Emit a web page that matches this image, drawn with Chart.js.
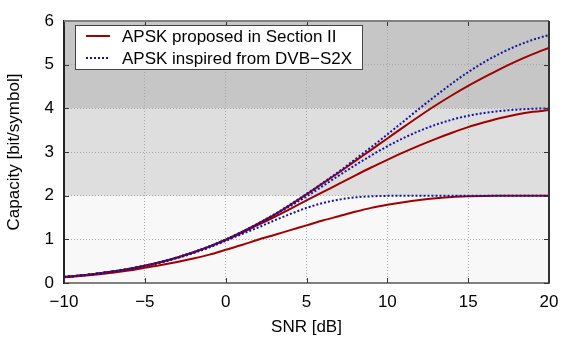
<!DOCTYPE html>
<html>
<head>
<meta charset="utf-8">
<script src="https://cdn.jsdelivr.net/npm/chart.js@4/dist/chart.umd.min.js"></script>
<style>
  html, body { margin: 0; padding: 0; background: #fff; }
  #wrap { width: 581px; height: 339px; }
</style>
</head>
<body>
<div id="wrap"><canvas id="grafico"></canvas></div>
<script>
// SNR axis (dB)
const snr = [-10, -9, -8, -7, -6, -5, -4, -3, -2, -1, 0, 1, 2, 3, 4, 5, 6, 7, 8, 9, 10,
             11, 12, 13, 14, 15, 16, 17, 18, 19, 20];

// APSK proposed in Section II (red, solid)
const propHigh = [0.137, 0.171, 0.212, 0.262, 0.323, 0.395, 0.483, 0.585, 0.703, 0.838, 0.993,
                  1.17, 1.36, 1.56, 1.79, 2.03, 2.28, 2.53, 2.79, 3.05, 3.31,
                  3.57, 3.825, 4.07, 4.30, 4.515, 4.715, 4.905, 5.08, 5.24, 5.385];
const propMid = [0.137, 0.171, 0.212, 0.261, 0.322, 0.394, 0.481, 0.582, 0.700, 0.834, 0.985,
                 1.15, 1.33, 1.51, 1.70, 1.89, 2.08, 2.27, 2.46, 2.645, 2.82,
                 2.99, 3.15, 3.30, 3.44, 3.57, 3.68, 3.78, 3.86, 3.92, 3.96];
const propLow = [0.13, 0.16, 0.195, 0.235, 0.285, 0.35, 0.41, 0.48, 0.56, 0.65, 0.76,
                 0.87, 0.99, 1.10, 1.21, 1.32, 1.43, 1.53, 1.63, 1.72, 1.79,
                 1.85, 1.90, 1.94, 1.97, 1.985, 1.993, 1.997, 2.0, 2.0, 2.0];

// APSK inspired from DVB-S2X (blue, dotted)
const dvbHigh = [0.137, 0.171, 0.212, 0.262, 0.323, 0.395, 0.483, 0.585, 0.704, 0.840, 0.995,
                 1.17, 1.36, 1.57, 1.80, 2.04, 2.29, 2.55, 2.83, 3.11, 3.40,
                 3.70, 4.00, 4.29, 4.57, 4.83, 5.06, 5.26, 5.43, 5.57, 5.68];
const dvbMid = [0.137, 0.171, 0.212, 0.262, 0.323, 0.395, 0.482, 0.584, 0.702, 0.837, 0.99,
                1.16, 1.35, 1.55, 1.76, 1.98, 2.22, 2.46, 2.695, 2.92, 3.13,
                3.32, 3.485, 3.625, 3.74, 3.83, 3.895, 3.94, 3.97, 3.99, 4.0];
const dvbLow = [0.136, 0.170, 0.210, 0.259, 0.318, 0.389, 0.473, 0.570, 0.684, 0.815, 0.965,
                1.12, 1.27, 1.43, 1.58, 1.72, 1.83, 1.91, 1.96, 1.985, 1.995,
                1.998, 2.0, 2.0, 2.0, 2.0, 2.0, 2.0, 2.0, 2.0, 2.0];

const legendLabels = ['APSK proposed in Section II', 'APSK inspired from DVB\u2212S2X'];

// shaded capacity bands
const bandLimits = [0, 2, 4, 6];
const bandColors = ['#f8f8f8', '#dedede', '#c6c6c6'];

const FONT = '"Liberation Sans", Arial, sans-serif';
const FSIZE = 17;
const RED = '#a00000';
const BLUE = '#1414a0';

function pontos(ys) {
    return ys.map((y, i) => ({ x: snr[i], y: y }));
}

function serie(label, ys, dotted, showLegend) {
    return {
        label: label,
        data: pontos(ys),
        borderColor: dotted ? BLUE : RED,
        borderWidth: 2,
        borderDash: dotted ? [2, 2] : [],
        pointRadius: 0,
        fill: false,
        cubicInterpolationMode: 'monotone',
        order: dotted ? 0 : 1,
        inLegend: showLegend
    };
}

// background bands under the grid
const bandas = {
    id: 'bandas',
    beforeDraw(chart) {
        const { ctx, chartArea: a, scales: { y } } = chart;
        ctx.save();
        for (let i = 0; i < bandColors.length; i++) {
            const y1 = y.getPixelForValue(bandLimits[i]);
            const y2 = y.getPixelForValue(bandLimits[i + 1]);
            ctx.fillStyle = bandColors[i];
            ctx.fillRect(a.left, y2, a.right - a.left, y1 - y2);
        }
        ctx.restore();
    }
};

// frame + inward tick marks
const moldura = {
    id: 'moldura',
    afterDatasetsDraw(chart) {
        const { ctx, chartArea: a, scales: { x, y } } = chart;
        ctx.save();
        ctx.strokeStyle = '#333';
        ctx.lineWidth = 1;
        ctx.beginPath();
        x.ticks.forEach(t => {
            const px = Math.round(x.getPixelForValue(t.value)) + 0.5;
            ctx.moveTo(px, a.bottom); ctx.lineTo(px, a.bottom - 5);
            ctx.moveTo(px, a.top); ctx.lineTo(px, a.top + 5);
        });
        y.ticks.forEach(t => {
            const py = Math.round(y.getPixelForValue(t.value)) + 0.5;
            ctx.moveTo(a.left, py); ctx.lineTo(a.left + 5, py);
            ctx.moveTo(a.right, py); ctx.lineTo(a.right - 5, py);
        });
        ctx.stroke();
        // top and right edges
        ctx.lineWidth = 2;
        ctx.strokeStyle = '#808080';
        ctx.beginPath();
        ctx.moveTo(a.left, a.top); ctx.lineTo(a.right, a.top);
        ctx.stroke();
        ctx.strokeStyle = '#333';
        ctx.beginPath();
        ctx.moveTo(a.right, a.top); ctx.lineTo(a.right, a.bottom);
        ctx.stroke();
        ctx.restore();
    }
};

// legend box inside the plot, top-left
const legenda = {
    id: 'legenda',
    afterDraw(chart) {
        const { ctx, chartArea: a } = chart;
        const itens = chart.data.datasets.filter(d => d.inLegend);
        const left = a.left + 11, top = a.top + 4;
        const w = 287, rowH = 22, h = itens.length * rowH;
        ctx.save();
        ctx.fillStyle = '#fff';
        ctx.fillRect(left, top, w, h);
        ctx.strokeStyle = '#444';
        ctx.lineWidth = 1;
        ctx.strokeRect(left + 0.5, top + 0.5, w, h);
        ctx.font = FSIZE + 'px ' + FONT;
        ctx.textBaseline = 'middle';
        itens.forEach((d, i) => {
            const cy = top + rowH / 2 + i * rowH;
            ctx.strokeStyle = d.borderColor;
            ctx.lineWidth = 2;
            ctx.setLineDash(d.borderDash);
            ctx.beginPath();
            ctx.moveTo(left + 11, cy); ctx.lineTo(left + 35, cy);
            ctx.stroke();
            ctx.setLineDash([]);
            ctx.fillStyle = '#000';
            ctx.fillText(d.label, left + 47, cy + 1);
        });
        ctx.restore();
    }
};

const menos = v => (v < 0 ? '\u2212' + Math.abs(v) : String(v));

new Chart(document.getElementById('grafico').getContext('2d'), {
    type: 'line',
    data: {
        datasets: [
            serie(legendLabels[0], propHigh, false, true),
            serie(legendLabels[0], propMid, false, false),
            serie(legendLabels[0], propLow, false, false),
            serie(legendLabels[1], dvbHigh, true, true),
            serie(legendLabels[1], dvbMid, true, false),
            serie(legendLabels[1], dvbLow, true, false)
        ]
    },
    options: {
        responsive: true,
        maintainAspectRatio: false,
        animation: false,
        layout: { padding: { top: 21, right: 32, left: 0, bottom: 0 } },
        plugins: { legend: { display: false }, tooltip: { enabled: false } },
        scales: {
            x: {
                type: 'linear',
                min: -10,
                max: 20,
                afterFit: s => { s.height = 56; },
                ticks: { stepSize: 5, color: '#000', padding: 9, font: { family: FONT, size: FSIZE }, callback: menos },
                grid: { color: '#a8a8a8', lineWidth: 1, drawTicks: false },
                border: { color: '#808080', width: 2, dash: [1, 2] },
                title: { display: true, text: 'SNR [dB]', color: '#000', font: { family: FONT, size: FSIZE }, padding: { top: 0, bottom: 1 } }
            },
            y: {
                min: 0,
                max: 6,
                afterFit: s => { s.width = 64; },
                ticks: { stepSize: 1, color: '#000', padding: 10, font: { family: FONT, size: FSIZE }, callback: menos },
                grid: { color: '#a8a8a8', lineWidth: 1, drawTicks: false },
                border: { color: '#222', width: 2, dash: [1, 2] },
                title: { display: true, text: 'Capacity [bit/symbol]', color: '#000', font: { family: FONT, size: FSIZE }, padding: { top: 4, bottom: 0 } }
            }
        }
    },
    plugins: [bandas, moldura, legenda]
});
</script>
</body>
</html>
